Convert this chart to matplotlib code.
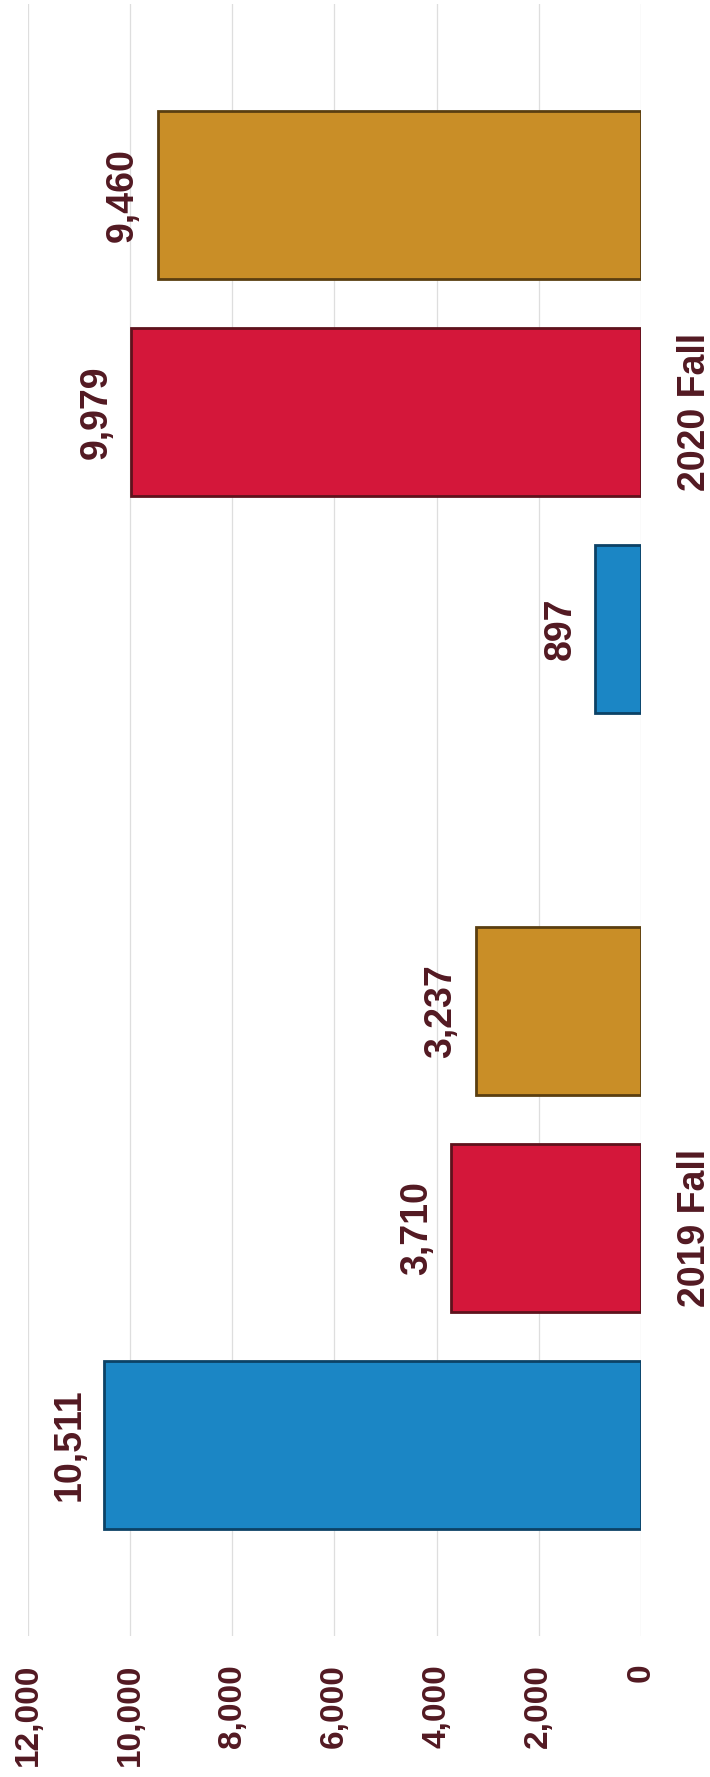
import matplotlib
matplotlib.use("Agg")
import matplotlib.pyplot as plt
import numpy as np

terms = ["2019 Fall", "2020 Fall"]
blue_vals = [10511, 897]
red_vals = [3710, 9979]
gold_vals = [3237, 9460]
value_ticks = [0, 2000, 4000, 6000, 8000, 10000, 12000]

series = [
    (blue_vals, "#1b86c5", "#0c4266", -0.266),
    (red_vals, "#d4173a", "#5e121c", 0.0),
    (gold_vals, "#c98e27", "#5a3e10", 0.266),
]

txt_col = "#521922"
plt.rcParams['font.family'] = ['Liberation Sans', 'DejaVu Sans']

fig = plt.figure(figsize=(7.1, 17.77), dpi=100)
ax = fig.add_axes([0.0394, 0.0793, 0.8634, 0.9184])

pos = np.arange(len(terms))
bar_h = 0.206
for vals, col, edge, off in series:
    bars = ax.barh(pos + off, vals, height=bar_h, color=col, edgecolor=edge,
                   linewidth=2.0, zorder=3)
    for b, v in zip(bars, vals):
        ax.annotate(f"{v:,}", xy=(v, b.get_y() + b.get_height() / 2),
                    xytext=(-12, 0), textcoords="offset points",
                    rotation=90, ha="right", va="center",
                    fontsize=27, fontweight="bold", color=txt_col)

ax.set_xlim(12000, 0)
ax.set_ylim(-0.5, 1.5)

ax.set_xticks(value_ticks)
ax.set_xticklabels([f"{t:,}" for t in value_ticks], rotation=90,
                   fontsize=24, fontweight="bold", color=txt_col)
ax.tick_params(axis="x", length=0, pad=20)

ax.yaxis.tick_right()
ax.set_yticks(pos)
ax.set_yticklabels(terms, rotation=90, va="center",
                   fontsize=27, fontweight="bold", color=txt_col)
ax.tick_params(axis="y", length=0, pad=26)

ax.grid(axis="x", color="#dedede", linewidth=0.9, zorder=0)
for s in ax.spines.values():
    s.set_visible(False)

fig.savefig("out.png", dpi=100)
